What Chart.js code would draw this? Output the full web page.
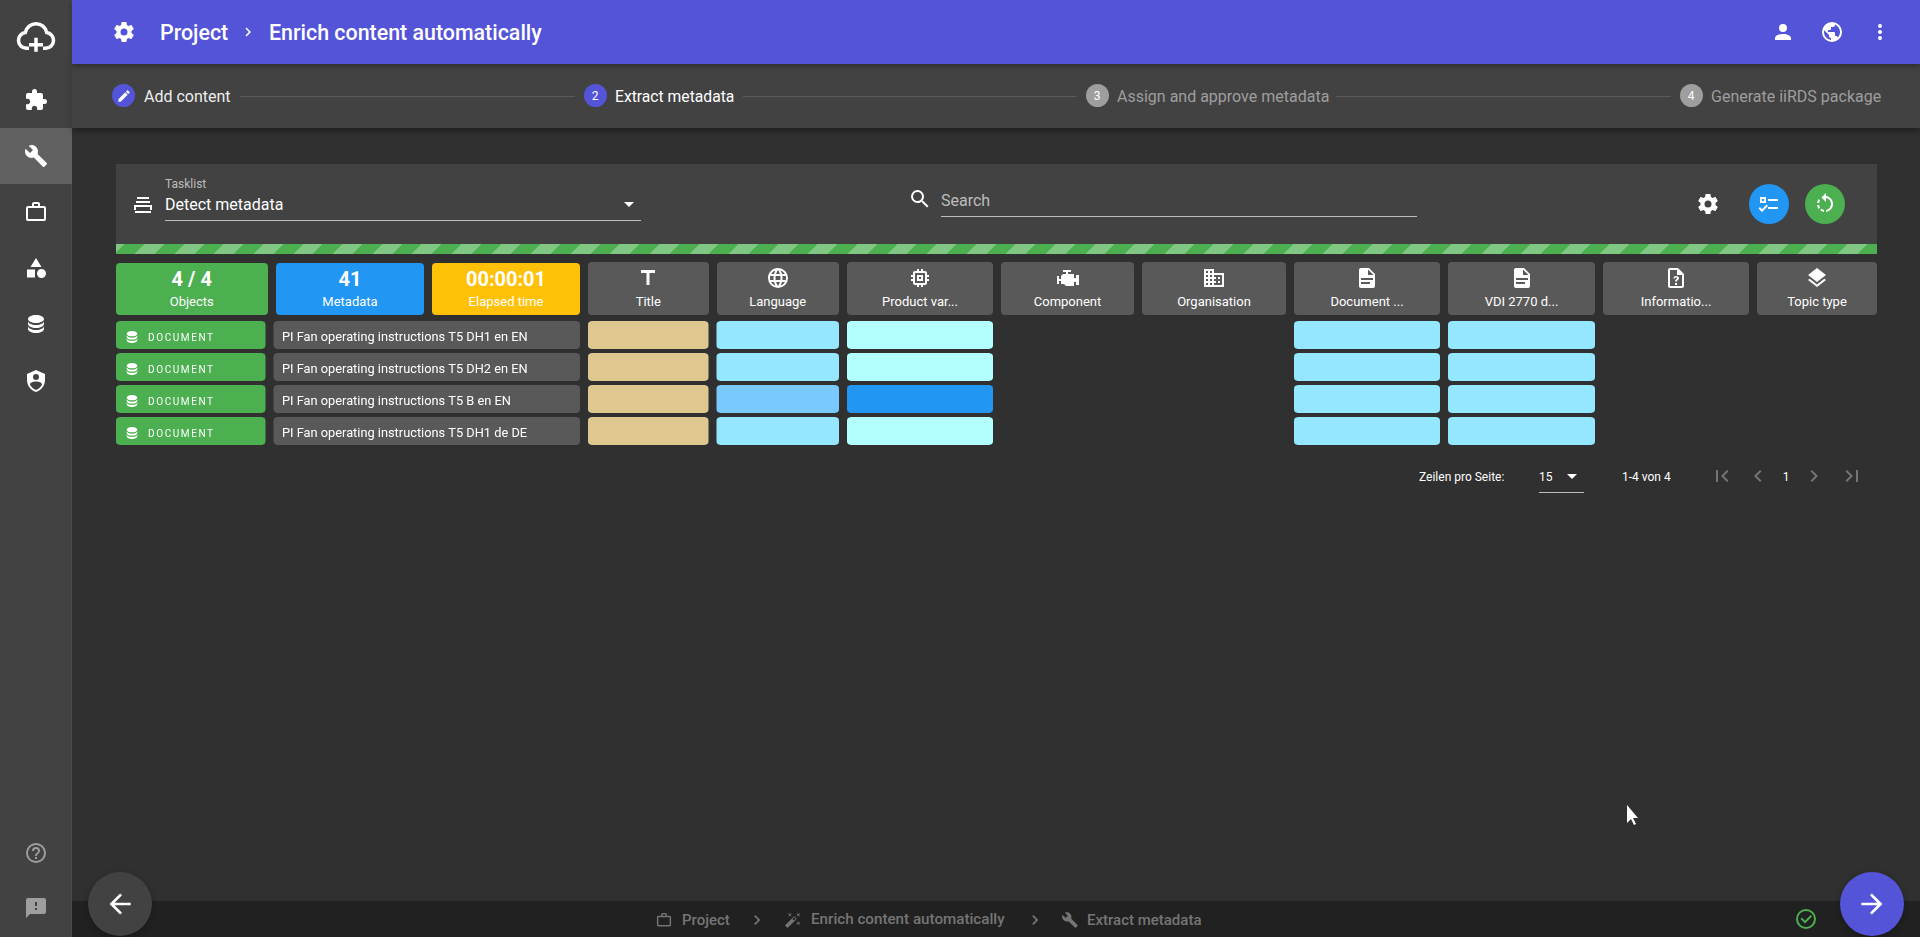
<!DOCTYPE html>
<html>
<head>
<meta charset="UTF-8">
<title>Enrich content automatically</title>
<script src="https://cdn.jsdelivr.net/npm/chart.js@4/dist/chart.umd.js"></script>
<style>
  html,body{margin:0;padding:0;width:1920px;height:937px;overflow:hidden;background:#303030;font-family:Roboto,sans-serif;color:#fff}
  .box{position:absolute}
  .t{position:absolute;white-space:nowrap;line-height:1;transform:translateY(-50%)}
  .c{transform:translate(-50%,-50%)}
  svg{position:absolute;transform:translate(-50%,-50%)}
  #matrix{position:absolute;left:112px;top:319px}
</style>
</head>
<body>
<canvas id="matrix" width="1769" height="128"></canvas>
<script>
// table content
const documents = [
  'PI Fan operating instructions T5 DH1 en EN',
  'PI Fan operating instructions T5 DH2 en EN',
  'PI Fan operating instructions T5 B en EN',
  'PI Fan operating instructions T5 DH1 de DE'
];
const documentKind = 'DOCUMENT';
const metadataColumns = ['Title','Language','Product var...','Component','Organisation','Document ...','VDI 2770 d...','Informatio...','Topic type'];
const columnIcons = ['title','web','memory','engine','domain','file','file','fileq','layers'];

// cell state per document: 0 empty, 1 title, 2 sky, 3 pale, 4 mid, 5 strong
const titleStates = [1,1,1,1];
const languageStates = [2,2,4,2];
const productStates = [3,3,5,3];
const componentStates = [0,0,0,0];
const organisationStates = [0,0,0,0];
const documentStates = [2,2,2,2];
const vdiStates = [2,2,2,2];
const informationStates = [0,0,0,0];
const topicStates = [0,0,0,0];
const allStates = [titleStates,languageStates,productStates,componentStates,organisationStates,documentStates,vdiStates,informationStates,topicStates];

const summaryValues = ['4 / 4','41','00:00:01'];
const summaryLabels = ['Objects','Metadata','Elapsed time'];

// layout, kept apart from the data
const stateColors = ['transparent','#dec88f','#95e7ff','#b3ffff','#79c9ff','#2196f3'];
const slotWidths = [157.5,314.5,128.5,130.5,154,141,152,154,155,154,128];
const CHART_LEFT = 112, CELL_GAP = 4;

const icons = {
  cog:'M12,15.5A3.5,3.5 0 0,1 8.5,12A3.5,3.5 0 0,1 12,8.5A3.5,3.5 0 0,1 15.5,12A3.5,3.5 0 0,1 12,15.5M19.43,12.97C19.47,12.65 19.5,12.33 19.5,12C19.5,11.67 19.47,11.34 19.43,11L21.54,9.37C21.73,9.22 21.78,8.95 21.66,8.73L19.66,5.27C19.54,5.05 19.27,4.96 19.05,5.05L16.56,6.05C16.04,5.66 15.5,5.32 14.87,5.07L14.5,2.42C14.46,2.18 14.25,2 14,2H10C9.75,2 9.54,2.18 9.5,2.42L9.13,5.07C8.5,5.32 7.96,5.66 7.44,6.05L4.95,5.05C4.73,4.96 4.46,5.05 4.34,5.27L2.34,8.73C2.21,8.95 2.27,9.22 2.46,9.37L4.57,11C4.53,11.34 4.5,11.67 4.5,12C4.5,12.33 4.53,12.65 4.57,12.97L2.46,14.63C2.27,14.78 2.21,15.05 2.34,15.27L4.34,18.73C4.46,18.95 4.73,19.03 4.95,18.95L7.44,17.94C7.96,18.34 8.5,18.68 9.13,18.93L9.5,21.58C9.54,21.82 9.75,22 10,22H14C14.25,22 14.46,21.82 14.5,21.58L14.87,18.93C15.5,18.67 16.04,18.34 16.56,17.94L19.05,18.95C19.27,19.03 19.54,18.95 19.66,18.73L21.66,15.27C21.78,15.05 21.73,14.78 21.54,14.63L19.43,12.97Z',
  account:'M12,4A4,4 0 0,1 16,8A4,4 0 0,1 12,12A4,4 0 0,1 8,8A4,4 0 0,1 12,4M12,14C16.42,14 20,15.79 20,18V20H4V18C4,15.79 7.58,14 12,14Z',
  earth:'M17.9,17.39C17.64,16.59 16.89,16 16,16H15V13A1,1 0 0,0 14,12H8V10H10A1,1 0 0,0 11,9V7H13A2,2 0 0,0 15,5V4.59C17.93,5.77 20,8.64 20,12C20,14.08 19.2,15.97 17.9,17.39M11,19.93C7.05,19.44 4,16.08 4,12C4,11.38 4.08,10.78 4.21,10.21L9,15V16A2,2 0 0,0 11,18M12,2A10,10 0 0,0 2,12A10,10 0 0,0 12,22A10,10 0 0,0 22,12A10,10 0 0,0 12,2Z',
  dots:'M12,16A2,2 0 0,1 14,18A2,2 0 0,1 12,20A2,2 0 0,1 10,18A2,2 0 0,1 12,16M12,10A2,2 0 0,1 14,12A2,2 0 0,1 12,14A2,2 0 0,1 10,12A2,2 0 0,1 12,10M12,4A2,2 0 0,1 14,6A2,2 0 0,1 12,8A2,2 0 0,1 10,6A2,2 0 0,1 12,4Z',
  puzzle:'M20.5,11H19V7C19,5.89 18.1,5 17,5H13V3.5A2.5,2.5 0 0,0 10.5,1A2.5,2.5 0 0,0 8,3.5V5H4A2,2 0 0,0 2,7V10.8H3.5C5,10.8 6.2,12 6.2,13.5C6.2,15 5,16.2 3.5,16.2H2V20A2,2 0 0,0 4,22H7.8V20.5C7.8,19 9,17.8 10.5,17.8C12,17.8 13.2,19 13.2,20.5V22H17A2,2 0 0,0 19,20V16H20.5A2.5,2.5 0 0,0 23,13.5A2.5,2.5 0 0,0 20.5,11Z',
  wrench:'M22.7,19L13.6,9.9C14.5,7.6 14,4.9 12.1,3C10.1,1 7.1,0.6 4.7,1.7L9,6L6,9L1.6,4.7C0.4,7.1 0.9,10.1 2.9,12.1C4.8,14 7.5,14.5 9.8,13.6L18.9,22.7C19.3,23.1 19.9,23.1 20.3,22.7L22.6,20.4C23.1,20 23.1,19.3 22.7,19Z',
  case:'M20,6C20.58,6 21.05,6.2 21.42,6.59C21.8,7 22,7.45 22,8V19C22,19.55 21.8,20 21.42,20.41C21.05,20.8 20.58,21 20,21H4C3.42,21 2.95,20.8 2.58,20.41C2.2,20 2,19.55 2,19V8C2,7.45 2.2,7 2.58,6.59C2.95,6.2 3.42,6 4,6H8V4C8,3.42 8.2,2.95 8.58,2.58C8.95,2.2 9.42,2 10,2H14C14.58,2 15.05,2.2 15.42,2.58C15.8,2.95 16,3.42 16,4V6H20M4,8V19H20V8H4M14,6V4H10V6H14Z',
  shapes:'M11,13.5V21.5H3V13.5H11M12,2L17.5,11H6.5L12,2M17.5,13C20,13 22,15 22,17.5C22,20 20,22 17.5,22C15,22 13,20 13,17.5C13,15 15,13 17.5,13Z',
  db:'M12,3C7.58,3 4,4.79 4,7C4,9.21 7.58,11 12,11C16.42,11 20,9.21 20,7C20,4.79 16.42,3 12,3M4,9V12C4,14.21 7.58,16 12,16C16.42,16 20,14.21 20,12V9C20,11.21 16.42,13 12,13C7.58,13 4,11.21 4,9M4,14V17C4,19.21 7.58,21 12,21C16.42,21 20,19.21 20,17V14C20,16.21 16.42,18 12,18C7.58,18 4,16.21 4,14Z',
  shield:'M12,1L3,5V11C3,16.55 6.84,21.74 12,23C17.16,21.74 21,16.55 21,11V5L12,1M12,5A3,3 0 0,1 15,8A3,3 0 0,1 12,11A3,3 0 0,1 9,8A3,3 0 0,1 12,5M17.13,17C15.92,18.85 14.11,20.24 12,20.92C9.89,20.24 8.08,18.85 6.87,17C6.53,16.5 6.24,16 6,15.47C6,13.82 8.71,12.47 12,12.47C15.29,12.47 18,13.79 18,15.47C17.76,16 17.47,16.5 17.13,17Z',
  help:'M11,18H13V16H11V18M12,2A10,10 0 0,0 2,12A10,10 0 0,0 12,22A10,10 0 0,0 22,12A10,10 0 0,0 12,2M12,20C7.59,20 4,16.41 4,12C4,7.59 7.59,4 12,4C16.41,4 20,7.59 20,12C20,16.41 16.41,20 12,20M12,6A4,4 0 0,0 8,10H10A2,2 0 0,1 12,8A2,2 0 0,1 14,10C14,12 11,11.75 11,15H13C13,12.75 16,12.5 16,10A4,4 0 0,0 12,6Z',
  alert:'M13,10H11V6H13M13,14H11V12H13M20,2H4A2,2 0 0,0 2,4V22L6,18H20A2,2 0 0,0 22,16V4C22,2.89 21.1,2 20,2Z',
  left:'M20,11V13H8L13.5,18.5L12.08,19.92L4.16,12L12.08,4.08L13.5,5.5L8,11H20Z',
  right:'M4,11V13H16L10.5,18.5L11.92,19.92L19.84,12L11.92,4.08L10.5,5.5L16,11H4Z',
  check:'M12,2A10,10 0 0,1 22,12A10,10 0 0,1 12,22A10,10 0 0,1 2,12A10,10 0 0,1 12,2M12,4A8,8 0 0,0 4,12A8,8 0 0,0 12,20A8,8 0 0,0 20,12A8,8 0 0,0 12,4M11,16.5L6.5,12L7.91,10.59L11,13.67L16.59,8.09L18,9.5L11,16.5Z',
  pencil:'M20.71,7.04C21.1,6.65 21.1,6 20.71,5.63L18.37,3.29C18,2.9 17.35,2.9 16.96,3.29L15.12,5.12L18.87,8.87M3,17.25V21H6.75L17.81,9.93L14.06,6.18L3,17.25Z',
  tray:'M4,18H20V20H4V18M6,4H18V6H6V4M5,8H19V10H5V8M3,12H21V17H19V14H5V17H3V12Z',
  search:'M9.5,3A6.5,6.5 0 0,1 16,9.5C16,11.11 15.41,12.59 14.44,13.73L14.71,14H15.5L20.5,19L19,20.5L14,15.5V14.71L13.73,14.44C12.59,15.41 11.11,16 9.5,16A6.5,6.5 0 0,1 3,9.5A6.5,6.5 0 0,1 9.5,3M9.5,5C7,5 5,7 5,9.5C5,12 7,14 9.5,14C12,14 14,12 14,9.5C14,7 12,5 9.5,5Z',
  checks:'M3,5H9V11H3V5M5,7V9H7V7H5M11,7H21V9H11V7M11,15H21V17H11V15M5,20L1.5,16.5L2.91,15.09L5,17.17L9.59,12.59L11,14L5,20Z',
  rotate:'M16.89,15.5L18.31,16.89C19.21,15.73 19.76,14.39 19.93,13H17.91C17.77,13.87 17.43,14.72 16.89,15.5M13,17.9V19.92C14.39,19.75 15.74,19.21 16.9,18.31L15.46,16.87C14.71,17.41 13.87,17.76 13,17.9M19.93,11C19.76,9.61 19.21,8.27 18.31,7.11L16.89,8.53C17.43,9.28 17.77,10.13 17.91,11M15.55,5.55L11,1V4.07C7.06,4.56 4,7.92 4,12C4,16.08 7.05,19.44 11,19.93V17.91C8.16,17.43 6,14.97 6,12C6,9.03 8.16,6.57 11,6.09V10L15.55,5.55Z',
  title:'M5,4V7H10.5V19H13.5V7H19V4H5Z',
  web:'M16.36,14C16.44,13.34 16.5,12.68 16.5,12C16.5,11.32 16.44,10.66 16.36,10H19.74C19.9,10.64 20,11.31 20,12C20,12.69 19.9,13.36 19.74,14M14.59,19.56C15.19,18.45 15.65,17.25 15.97,16H18.92C17.96,17.65 16.43,18.93 14.59,19.56M14.34,14H9.66C9.56,13.34 9.5,12.68 9.5,12C9.5,11.32 9.56,10.65 9.66,10H14.34C14.43,10.65 14.5,11.32 14.5,12C14.5,12.68 14.43,13.34 14.34,14M12,19.96C11.17,18.76 10.5,17.43 10.09,16H13.91C13.5,17.43 12.83,18.76 12,19.96M8,8H5.08C6.03,6.34 7.57,5.06 9.4,4.44C8.8,5.55 8.35,6.75 8,8M5.08,16H8C8.35,17.25 8.8,18.45 9.4,19.56C7.57,18.93 6.03,17.65 5.08,16M4.26,14C4.1,13.36 4,12.69 4,12C4,11.31 4.1,10.64 4.26,10H7.64C7.56,10.66 7.5,11.32 7.5,12C7.5,12.68 7.56,13.34 7.64,14M12,4.03C12.83,5.23 13.5,6.57 13.91,8H10.09C10.5,6.57 11.17,5.23 12,4.03M18.92,8H15.97C15.65,6.75 15.19,5.55 14.59,4.44C16.43,5.07 17.96,6.34 18.92,8M12,2C6.47,2 2,6.5 2,12A10,10 0 0,0 12,22A10,10 0 0,0 22,12A10,10 0 0,0 12,2Z',
  memory:'M17,17H7V7H17M21,11V9H19V7C19,5.89 18.1,5 17,5H15V3H13V5H11V3H9V5H7C5.89,5 5,5.89 5,7V9H3V11H5V13H3V15H5V17A2,2 0 0,0 7,19H9V21H11V19H13V21H15V19H17A2,2 0 0,0 19,17V15H21V13H19V11M13,13H11V11H13M15,9H9V15H15V9Z',
  engine:'M7,4V6H10V8H7L5,10V13H3V10H1V18H3V15H5V18H8L10,20H18V16H20V19H23V9H20V12H18V8H12V6H15V4H7Z',
  domain:'M18,15H16V17H18M18,11H16V13H18M20,19H12V17H14V15H12V13H14V11H12V9H20M10,7H8V5H10M10,11H8V9H10M10,15H8V13H10M10,19H8V17H10M6,7H4V5H6M6,11H4V9H6M6,15H4V13H6M6,19H4V17H6M12,7V3H2V21H22V7H12Z',
  file:'M13,9H18.5L13,3.5V9M6,2H14L20,8V20A2,2 0 0,1 18,22H6C4.89,22 4,21.1 4,20V4C4,2.89 4.89,2 6,2M15,18V16H6V18H15M18,14V12H6V14H18Z',
  fileq:'M14,2H6A2,2 0 0,0 4,4V20A2,2 0 0,0 6,22H18A2,2 0 0,0 20,20V8L14,2M18,20H6V4H13V9H18V20M11,17H13V19H11V17M12,10C10.3,10 9.5,11 9.5,12.5H11C11,11.8 11.3,11.5 12,11.5C12.7,11.5 13,11.8 13,12.3C13,13.3 11,13.3 11,15.5H13C13,14 15,13.8 15,12.3C15,10.9 13.8,10 12,10Z',
  layers:'M12,16L19.36,10.27L21,9L12,2L3,9L4.63,10.27M12,18.54L4.62,12.81L3,14.07L12,21.07L21,14.07L19.37,12.8L12,18.54Z',
  wand:'M7.5,5.6L5,7L6.4,4.5L5,2L7.5,3.4L10,2L8.6,4.5L10,7L7.5,5.6M19.5,15.4L22,14L20.6,16.5L22,19L19.5,17.6L17,19L18.4,16.5L17,14L19.5,15.4M22,2L20.6,4.5L22,7L19.5,5.6L17,7L18.4,4.5L17,2L19.5,3.4L22,2M13.34,12.78L15.78,10.34L13.66,8.22L11.22,10.66L13.34,12.78M14.37,7.29L16.71,9.63C17.1,10 17.1,10.65 16.71,11.04L5.04,22.71C4.65,23.1 4,23.1 3.63,22.71L1.29,20.37C0.9,20 0.9,19.35 1.29,18.96L12.96,7.29C13.35,6.9 14,6.9 14.37,7.29Z',
  chevL:'M15.41,16.58L10.83,12L15.41,7.41L14,6L8,12L14,18L15.41,16.58Z',
  chevR:'M8.59,16.58L13.17,12L8.59,7.41L10,6L16,12L10,18L8.59,16.58Z',
  first:'M18.41,16.59L13.82,12L18.41,7.41L17,6L11,12L17,18L18.41,16.59M6,6H8V18H6V6Z',
  last:'M5.59,7.41L10.18,12L5.59,16.59L7,18L13,12L7,6L5.59,7.41M16,6H18V18H16V6Z',
  caret:'M7,10L12,15L17,10H7Z',
  cursor:'M10,2V20L14,16L17,22L19,21L16,15H21L10,2Z'
};

function box(x,y,w,h,css){
  const d=document.createElement('div');
  d.className='box';
  d.style.cssText=`left:${x}px;top:${y}px;width:${w}px;height:${h}px;${css||''}`;
  document.body.appendChild(d);
  return d;
}
function text(s,x,y,size,color,weight,center){
  const d=document.createElement('div');
  d.className=center?'t c':'t';
  d.textContent=s;
  d.style.cssText=`left:${x}px;top:${y}px;font-size:${size}px;color:${color||'#fff'};font-weight:${weight||400}`;
  document.body.appendChild(d);
}
function icon(name,x,y,size,color,mirror){
  const s=document.createElementNS('http://www.w3.org/2000/svg','svg');
  s.setAttribute('viewBox','0 0 24 24');
  s.setAttribute('width',size);
  s.setAttribute('height',size);
  s.style.left=x+'px';
  s.style.top=y+'px';
  const p=document.createElementNS('http://www.w3.org/2000/svg','path');
  p.setAttribute('d',icons[name]);
  p.setAttribute('fill',color||'#fff');
  if(mirror) p.setAttribute('transform','translate(24,0) scale(-1,1)');
  s.appendChild(p);
  document.body.appendChild(s);
}

// sidebar
box(0,0,72,937,'background:#424242;border-right:1px solid #4a4a4a;box-sizing:border-box');
box(0,128,72,56,'background:#616161');
const cloud=document.createElementNS('http://www.w3.org/2000/svg','svg');
cloud.setAttribute('viewBox','0 0 24 24');cloud.setAttribute('width',42);cloud.setAttribute('height',42);
cloud.style.left='36px';cloud.style.top='36px';
cloud.innerHTML='<path d="M8,19H6.5C4,19 2,17 2,14.5C2,12.2 3.7,10.3 5.9,10C6.6,7.1 9.1,5 12,5C15,5 17.5,7.1 18.1,10C20.3,10.3 22,12.2 22,14.5C22,17 20,19 17.5,19H16" fill="none" stroke="#fff" stroke-width="2"/><path d="M11,13H13V16H16V18H13V21H11V18H8V16H11Z" fill="#fff"/>';
document.body.appendChild(cloud);
icon('puzzle',36,100,24);
icon('wrench',36,156,24);
icon('case',36,212,24);
icon('shapes',36,268,24);
icon('db',36,324,24);
icon('shield',36,381,24);
icon('help',36,853,24,'#9e9e9e');
icon('alert',36,908,24,'#9e9e9e');

// app bar
box(72,64,1848,64,'background:#424242;box-shadow:0 3px 6px rgba(0,0,0,.35)');
box(72,0,1848,64,'background:#5454d8;box-shadow:0 2px 5px rgba(0,0,0,.35)');
icon('cog',124,32,24);
text('Project',160,33,21.4,'#fff',500);
icon('chevR',248,32,18);
text('Enrich content automatically',269,33,21.4,'#fff',500);
icon('account',1783,32,24);
icon('earth',1832,32,24);
icon('dots',1880,32,24);

// stepper
box(112,84,23,23,'background:#5454d8;border-radius:50%');
icon('pencil',123.5,95.5,15);
text('Add content',144,97,16,'#eee');
box(240,96,335,1,'background:#5a5a5a');
box(583.5,84,23,23,'background:#5454d8;border-radius:50%');
text('2',595,96,12,'#fff',400,true);
text('Extract metadata',615,97,15.7,'#fff');
box(743,96,333,1,'background:#5a5a5a');
box(1085.5,84,23,23,'background:#9e9e9e;border-radius:50%');
text('3',1097,96,12,'#fff',400,true);
text('Assign and approve metadata',1117,97,16,'#9e9e9e');
box(1336,96,335,1,'background:#5a5a5a');
box(1679.5,84,23,23,'background:#9e9e9e;border-radius:50%');
text('4',1691,96,12,'#fff',400,true);
text('Generate iiRDS package',1711,97,16,'#9e9e9e');

// toolbar panel
box(116,164,1761,80,'background:#424242');
box(116,244,1761,10,'background:repeating-linear-gradient(-45deg,#4caf50 0 14px,#81c784 14px 28px)');
icon('tray',143,205,24);
text('Tasklist',165,184,12,'#bdbdbd');
text('Detect metadata',165,205,16,'#fff');
box(165,220,476,1,'background:#bdbdbd');
icon('caret',629,204,24);
icon('search',920,199,24);
text('Search',941,201,16,'#bdbdbd');
box(941,216,476,1,'background:#bdbdbd');
icon('cog',1708,204,24);
box(1749,184,40,40,'background:#2196f3;border-radius:50%');
icon('checks',1769,204,24);
box(1805,184,40,40,'background:#4caf50;border-radius:50%');
icon('rotate',1825,204,24,'#fff',true);

// summary tiles
const summaryBoxes=[[116,151.5,'#4caf50'],[276,148,'#2196f3'],[432,148,'#ffc107']];
summaryBoxes.forEach(function(b,i){
  box(b[0],263,b[1],52,`background:${b[2]};border-radius:4px`);
  text(summaryValues[i],b[0]+b[1]/2,279,20,'#fff',700,true);
  text(summaryLabels[i],b[0]+b[1]/2,301,13,'#fff',400,true);
});

// column header tiles use the same slots as the chart
let slotX=CHART_LEFT+slotWidths[0]+slotWidths[1];
metadataColumns.forEach(function(name,i){
  const w=slotWidths[i+2];
  box(slotX+CELL_GAP,262,w-CELL_GAP*2,53,'background:#595959;border-radius:4px');
  icon(columnIcons[i],slotX+w/2,278,24);
  text(name,slotX+w/2,301,13,'#fff',400,true);
  slotX+=w;
});

// pagination
text('Zeilen pro Seite:',1419,477,12,'#fff');
text('15',1539,477,12,'#fff');
icon('caret',1572,476,24);
box(1539,492,45,1,'background:#bdbdbd');
text('1-4 von 4',1622,477,12,'#fff');
icon('first',1722,476,24,'#757575');
icon('chevL',1758,476,24,'#757575');
text('1',1786,477,12,'#fff',400,true);
icon('chevR',1814,476,24,'#757575');
icon('last',1852,476,24,'#757575');

// footer
box(72,901,1848,36,'background:#212121');
icon('case',664,920,17,'#757575');
text('Project',682,920,15,'#757575',500);
icon('chevR',757,920,20,'#757575');
icon('wand',793,920,17,'#757575');
text('Enrich content automatically',811,920,15.2,'#757575',500);
icon('chevR',1035,920,20,'#757575');
icon('wrench',1070,920,17,'#757575');
text('Extract metadata',1087,920,15,'#757575',500);
icon('check',1806,919,24,'#4caf50');
box(88,872,64,64,'background:#424242;border-radius:50%;box-shadow:0 2px 6px rgba(0,0,0,.3)');
icon('left',120,904,32);
box(1840,872,64,64,'background:#5454d8;border-radius:50%;box-shadow:0 2px 6px rgba(0,0,0,.3)');
icon('right',1872,904,32);
icon('cursor',1629,815,24);

// "DOCUMENT" caption on the first stack segment of every row
const dbPath=new Path2D(icons.db);
const kindLabels={
  id:'kindLabels',
  afterDatasetsDraw(chart){
    const ctx=chart.ctx;
    chart.getDatasetMeta(0).data.forEach(function(bar){
      const left=bar.base+CELL_GAP;
      ctx.save();
      ctx.translate(left+8,bar.y-6);
      ctx.scale(16/24,16/24);
      ctx.fillStyle='#fff';
      ctx.fill(dbPath);
      ctx.restore();
      ctx.save();
      ctx.font='10px Roboto';
      ctx.letterSpacing='1.6px';
      ctx.fillStyle='#fff';
      ctx.textBaseline='middle';
      ctx.fillText(documentKind,left+32,bar.y+3);
      ctx.restore();
    });
  }
};

const leadDatasets=[
  {label:'Kind',data:documents.map(()=>slotWidths[0]),backgroundColor:'#4caf50'},
  {label:'Name',data:documents.map(()=>slotWidths[1]),backgroundColor:'#595959'}
];
const cellDatasets=metadataColumns.map(function(name,i){
  return {
    label:name,
    data:allStates[i].map(()=>slotWidths[i+2]),
    backgroundColor:allStates[i].map(s=>stateColors[s])
  };
});

const cornerRadius=CELL_GAP+4;
new Chart(document.getElementById('matrix').getContext('2d'),{
  type:'bar',
  data:{labels:documents,datasets:leadDatasets.concat(cellDatasets)},
  plugins:[kindLabels],
  options:{
    indexAxis:'y',
    responsive:false,
    animation:false,
    devicePixelRatio:1,
    layout:{padding:0},
    datasets:{bar:{
      categoryPercentage:1,
      barPercentage:0.875,
      borderSkipped:false,
      borderColor:'transparent',
      borderWidth:{left:CELL_GAP,right:CELL_GAP,top:0,bottom:0},
      borderRadius:{topLeft:cornerRadius,topRight:cornerRadius,bottomLeft:cornerRadius,bottomRight:cornerRadius},
      inflateAmount:0
    }},
    plugins:{legend:{display:false},tooltip:{enabled:false},title:{display:false}},
    scales:{
      x:{type:'linear',stacked:true,display:false,min:0,max:slotWidths.reduce((a,b)=>a+b,0)},
      y:{
        stacked:true,
        position:'left',
        afterFit(scale){scale.width=0;scale.paddingTop=0;scale.paddingBottom=0;},
        border:{display:false},
        grid:{display:false,drawTicks:false},
        ticks:{mirror:true,z:1,padding:170,labelOffset:3,color:'#fff',font:{family:'Roboto',size:12.8}}
      }
    }
  }
});
</script>
</body>
</html>
